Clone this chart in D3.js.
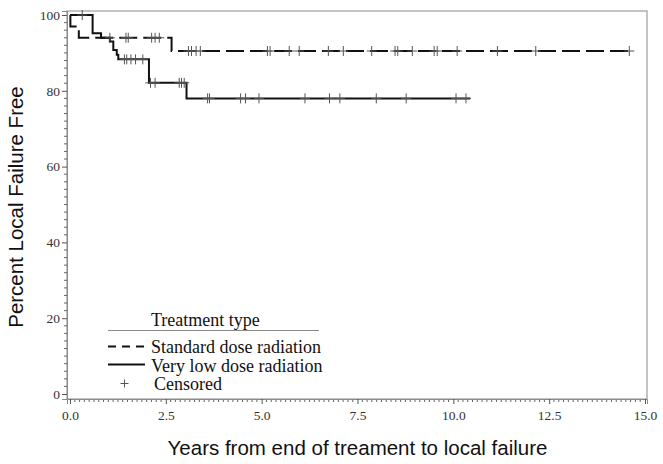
<!DOCTYPE html>
<html>
<head>
<meta charset="utf-8">
<script src="https://cdn.jsdelivr.net/npm/d3@7"></script>
<style>
  body { margin: 0; background: #fff; }
  svg { display: block; }
</style>
</head>
<body>
<div id="chart"></div>
<script>
// Kaplan-Meier step data (years, percent failure free)
var stdTimes = [0, 0.01, 0.23, 2.65, 14.68];
var stdSurv  = [100, 97.0, 94.0, 90.5, 90.5];
var lowTimes = [0, 0.59, 0.81, 1.04, 1.13, 1.22, 1.26, 2.06, 3.04, 10.44];
var lowSurv  = [100, 95.2, 94.0, 93.0, 90.8, 89.5, 88.3, 82.1, 78.0, 78.0];

// censored times
var stdCensor = [1.04, 1.46, 1.52, 2.13, 2.22, 2.33, 3.09, 3.17, 3.29, 3.40, 5.15, 5.22, 5.72, 5.98,
                 6.74, 7.13, 7.87, 8.48, 8.55, 8.93, 9.50, 9.58, 10.10, 11.15, 12.15, 14.59];
var lowCensor = [0.32, 1.42, 1.48, 1.59, 1.71, 1.90, 2.10, 2.22, 2.85, 2.91, 2.98, 3.59, 3.64, 4.45,
                 4.58, 4.93, 6.13, 6.77, 7.04, 7.99, 8.77, 10.07, 10.33];

var xTicks = [0, 2.5, 5, 7.5, 10, 12.5, 15];
var yTicks = [0, 20, 40, 60, 80, 100];
var legendTitle = "Treatment type";
var legendItems = ["Standard dose radiation", "Very low dose radiation", "Censored"];

var W = 663, H = 464;
var svg = d3.select("#chart").append("svg")
    .attr("width", W).attr("height", H);

var plot = {left: 67, right: 647, top: 11, bottom: 399};

var x = d3.scaleLinear().domain([-0.078, 15.052]).range([plot.left, plot.right]);
var y = d3.scaleLinear().domain([-1.32, 101.06]).range([plot.bottom, plot.top]);

var serif = "Liberation Serif, Times New Roman, serif";
var sans = "Liberation Sans, Arial, sans-serif";

// frame
svg.append("rect")
    .attr("x", plot.left).attr("y", plot.top)
    .attr("width", plot.right - plot.left).attr("height", plot.bottom - plot.top)
    .attr("fill", "none").attr("stroke", "#8a8a8a").attr("stroke-width", 1);

// x axis with minor ticks
var xMinor = d3.range(0, 15.001, 0.125).filter(function(v) { return xTicks.indexOf(v) < 0; });
var xAxisG = svg.append("g").attr("transform", "translate(0," + plot.bottom + ")");
xAxisG.selectAll("line.minor").data(xMinor).enter().append("line")
    .attr("x1", function(d) { return x(d); }).attr("x2", function(d) { return x(d); })
    .attr("y1", 0).attr("y2", 3)
    .attr("stroke", "#666");
xAxisG.call(d3.axisBottom(x).tickValues(xTicks).tickSize(5).tickPadding(6)
        .tickFormat(d3.format(".1f")))
    .call(function(g) { g.select(".domain").attr("stroke", "#8a8a8a"); })
    .call(function(g) { g.selectAll(".tick line").attr("stroke", "#555"); })
    .call(function(g) {
        g.selectAll(".tick text").attr("font-family", serif)
            .attr("font-size", 13.5).attr("fill", "#333");
    });

// y axis with minor ticks
var yMinor = d3.range(0, 100.001, 2).filter(function(v) { return yTicks.indexOf(v) < 0; });
var yAxisG = svg.append("g").attr("transform", "translate(" + plot.left + ",0)");
yAxisG.selectAll("line.minor").data(yMinor).enter().append("line")
    .attr("y1", function(d) { return y(d); }).attr("y2", function(d) { return y(d); })
    .attr("x1", 0).attr("x2", -3)
    .attr("stroke", "#666");
yAxisG.call(d3.axisLeft(y).tickValues(yTicks).tickSize(5).tickPadding(2))
    .call(function(g) { g.select(".domain").attr("stroke", "#8a8a8a"); })
    .call(function(g) { g.selectAll(".tick line").attr("stroke", "#555"); })
    .call(function(g) {
        g.selectAll(".tick text").attr("font-family", serif)
            .attr("font-size", 13.5).attr("fill", "#333");
    });

// axis titles
svg.append("text")
    .attr("x", (x(0) + x(15)) / 2).attr("y", 455)
    .attr("text-anchor", "middle")
    .attr("font-family", sans)
    .attr("font-size", 20.5).attr("fill", "#111")
    .text("Years from end of treament to local failure");

svg.append("text")
    .attr("transform", "translate(23,207) rotate(-90)")
    .attr("text-anchor", "middle")
    .attr("font-family", sans)
    .attr("font-size", 20.5).attr("fill", "#111")
    .text("Percent Local Failure Free");

// step curves
function toPoints(t, s) {
    return t.map(function(d, i) { return [d, s[i]]; });
}
var line = d3.line()
    .x(function(d) { return x(d[0]); })
    .y(function(d) { return y(d[1]); })
    .curve(d3.curveStepAfter);

svg.append("path")
    .datum(toPoints(lowTimes, lowSurv))
    .attr("fill", "none").attr("stroke", "#111").attr("stroke-width", 2)
    .attr("d", line);

svg.append("path")
    .datum(toPoints(stdTimes, stdSurv))
    .attr("fill", "none").attr("stroke", "#111").attr("stroke-width", 2)
    .attr("stroke-dasharray", "18,6")
    .attr("d", line);

// censor marks sit on the curve value at that time
function survAt(times, surv, t) {
    var i = d3.bisectRight(times, t) - 1;
    return surv[Math.max(0, i)];
}
var plus = "M-5,0H5M0,-5V5";
function drawCensor(list, times, surv) {
    svg.append("g").selectAll("path")
        .data(list).enter().append("path")
        .attr("transform", function(d) {
            return "translate(" + x(d) + "," + y(survAt(times, surv, d)) + ")";
        })
        .attr("d", plus)
        .attr("fill", "none").attr("stroke", "#555").attr("stroke-width", 1);
}
drawCensor(stdCensor, stdTimes, stdSurv);
drawCensor(lowCensor, lowTimes, lowSurv);

// legend
var lg = svg.append("g");
lg.append("text").attr("x", 151).attr("y", 326)
    .attr("font-family", serif).attr("font-size", 18).attr("fill", "#111")
    .text(legendTitle);
lg.append("line").attr("x1", 108).attr("x2", 319).attr("y1", 330.5).attr("y2", 330.5)
    .attr("stroke", "#8a8a8a").attr("stroke-width", 1);

lg.append("line").attr("x1", 108).attr("x2", 144).attr("y1", 346.5).attr("y2", 346.5)
    .attr("stroke", "#111").attr("stroke-width", 2).attr("stroke-dasharray", "8,6");
lg.append("text").attr("x", 151).attr("y", 352.5)
    .attr("font-family", serif).attr("font-size", 18).attr("fill", "#111")
    .text(legendItems[0]);

lg.append("line").attr("x1", 108).attr("x2", 145).attr("y1", 364.5).attr("y2", 364.5)
    .attr("stroke", "#111").attr("stroke-width", 2);
lg.append("text").attr("x", 151).attr("y", 371.5)
    .attr("font-family", serif).attr("font-size", 18).attr("fill", "#111")
    .text(legendItems[1]);

lg.append("path").attr("transform", "translate(124.5,383.5)")
    .attr("d", "M-4,0H4M0,-4V4")
    .attr("stroke", "#555").attr("stroke-width", 1);
lg.append("text").attr("x", 154).attr("y", 390)
    .attr("font-family", serif).attr("font-size", 18).attr("fill", "#111")
    .text(legendItems[2]);
</script>
</body>
</html>
